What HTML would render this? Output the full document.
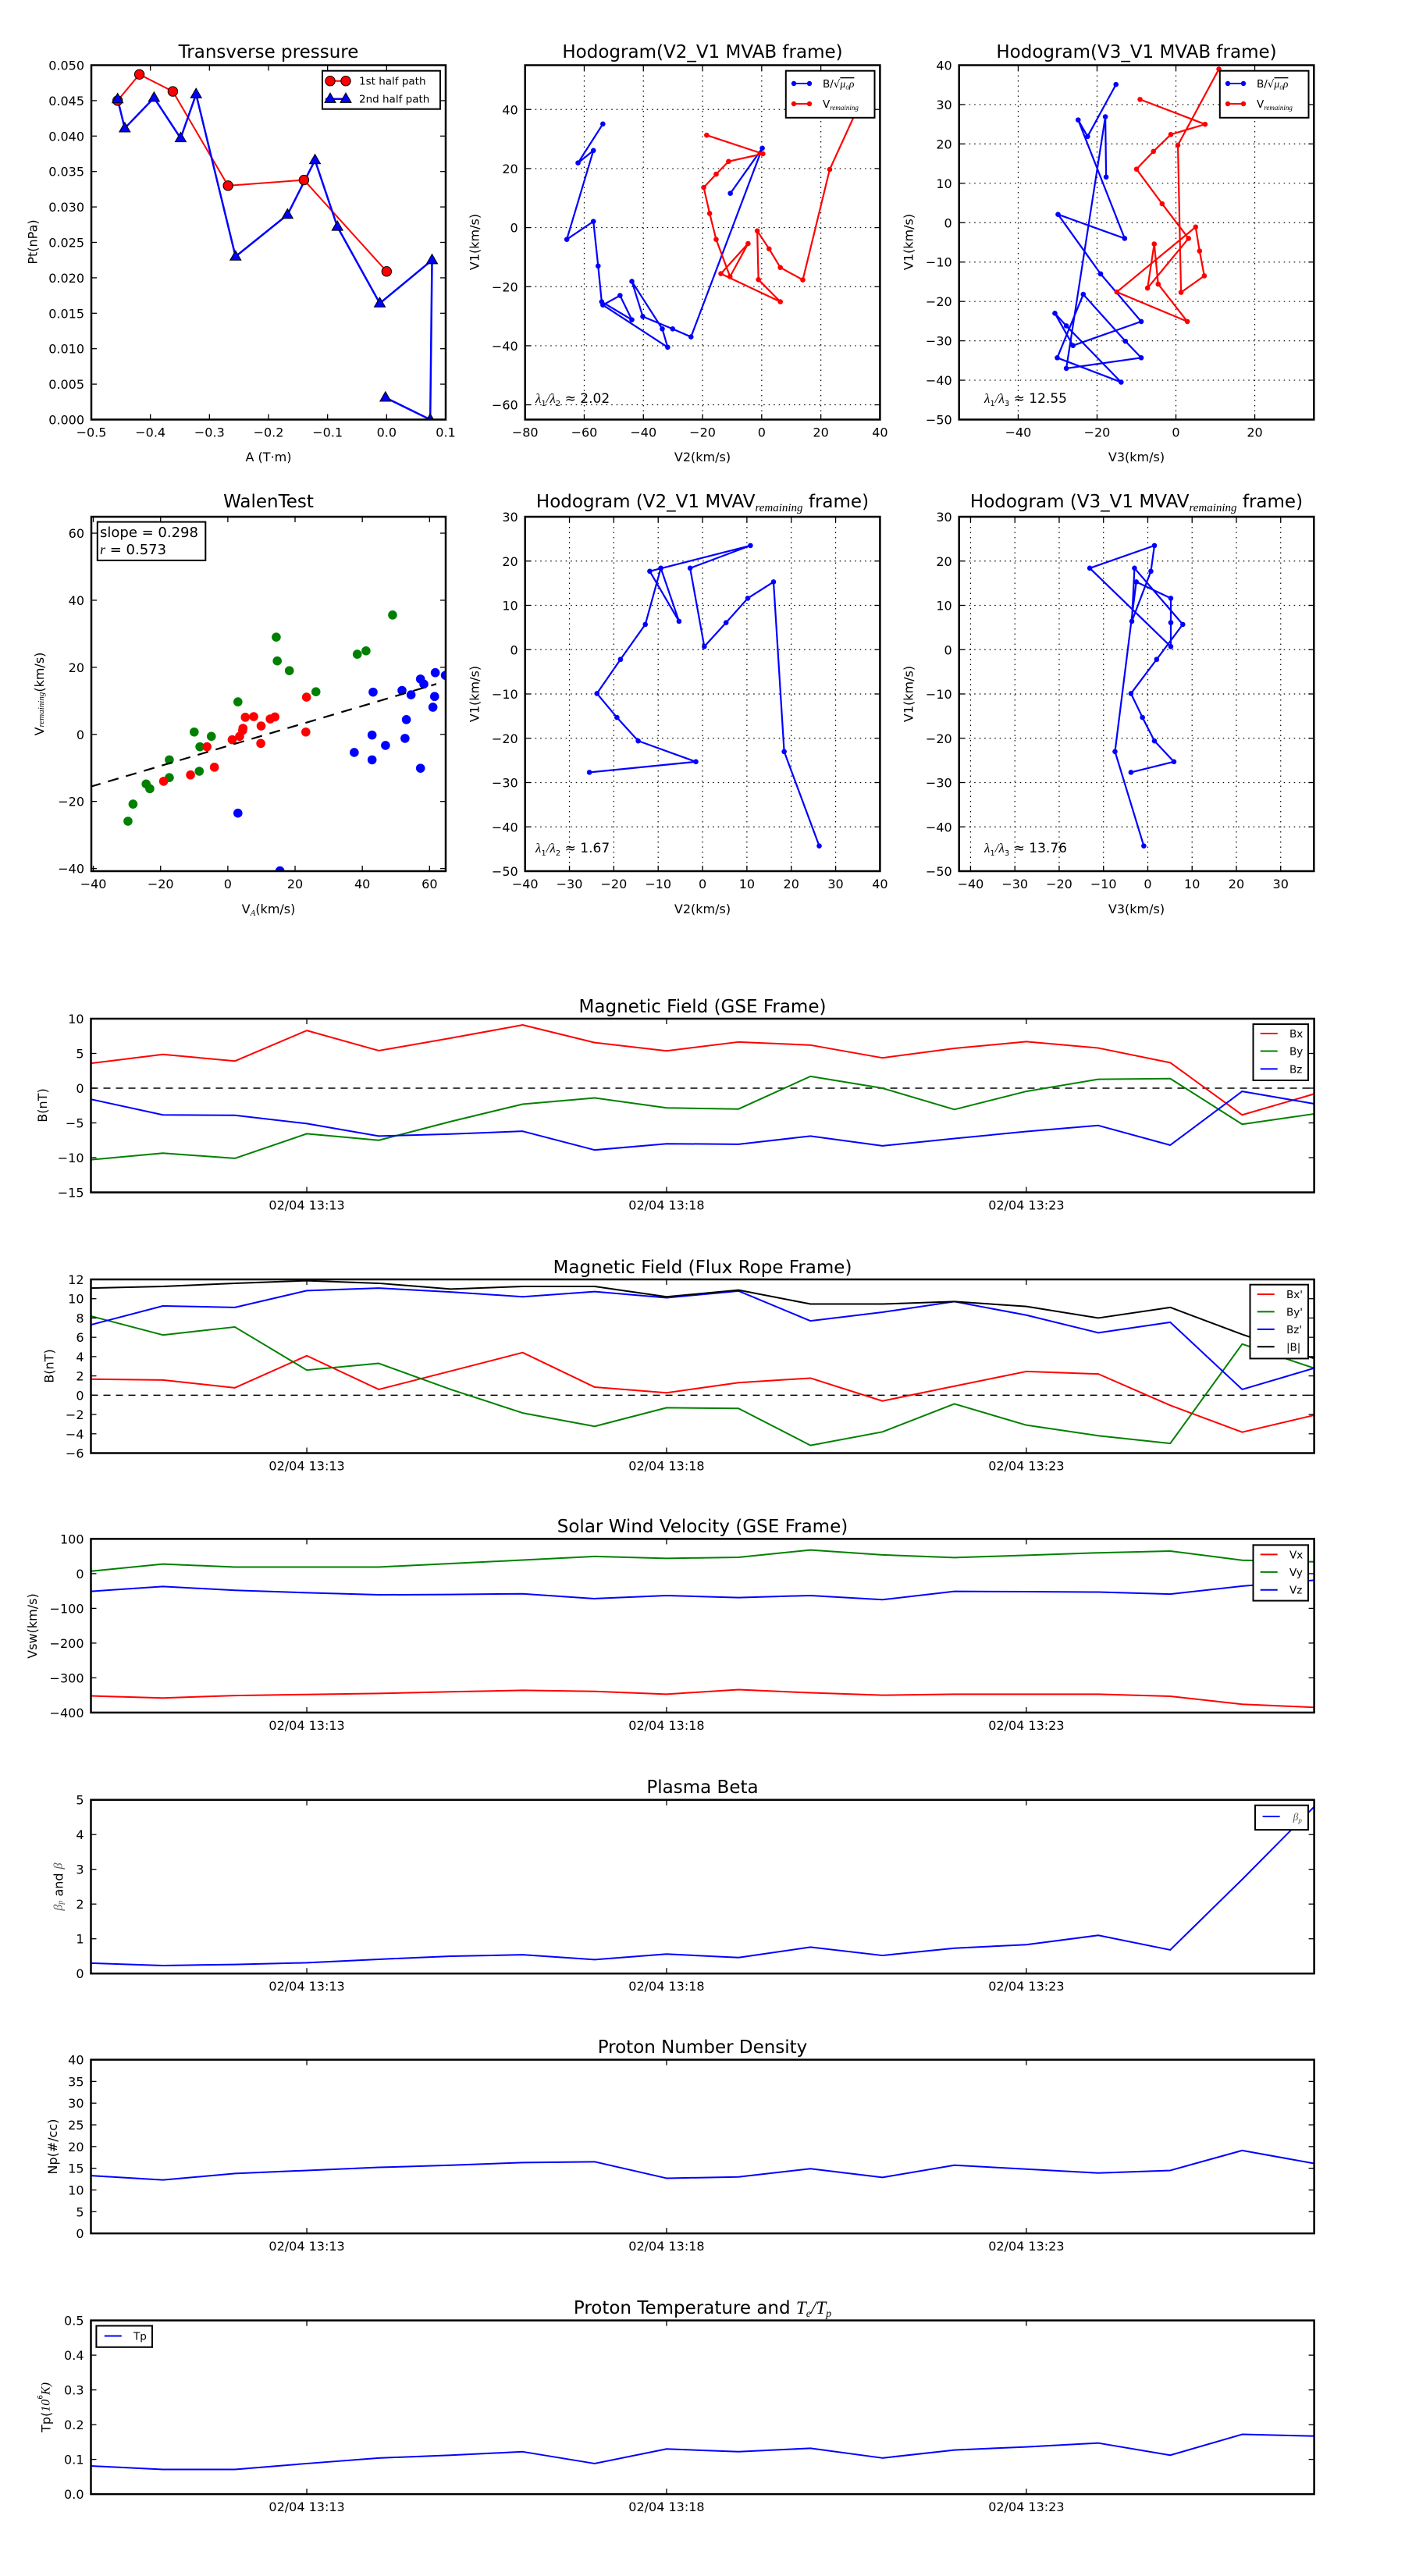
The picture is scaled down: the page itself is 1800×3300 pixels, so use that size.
<!DOCTYPE html>
<html><head><meta charset="utf-8">
<style>
body{margin:0;background:#fff}
svg{display:block}
text{font-family:"DejaVu Sans","Liberation Sans",sans-serif;fill:#000}
.m{font-family:"Liberation Serif","DejaVu Serif",serif;font-style:italic}
</style></head>
<body>
<svg id="fig" width="1800" height="3300" viewBox="0 0 1800 3300">
<rect width="1800" height="3300" fill="#fff"/>
<defs id="defs"></defs>
</svg>
<script>
// ---------- DATA ----------
// Transverse pressure
const ptRedA=[-0.4555,-0.4186,-0.362,-0.2685,-0.14,0.0];
const ptRedP=[0.0450,0.0487,0.0463,0.0330,0.0338,0.0209];
const ptBlueA=[-0.4555,-0.4434,-0.3938,-0.3488,-0.3226,-0.2558,-0.1679,-0.1213,-0.0834,-0.0116,0.0769,0.0738,-0.0020];
const ptBlueP=[0.0452,0.0411,0.0454,0.0397,0.0459,0.0230,0.0289,0.0366,0.0272,0.0164,0.0225,0.0,0.0031];
// MVAB hodograms
const hbV1=[35.1,21.9,26.1,-4.0,2.1,-13.0,-25.1,-31.2,-23.0,-26.2,-40.5,-34.3,-18.2,-30.1,-34.3,-37.0,26.9,11.6];
const hbV2=[-53.7,-62.1,-56.9,-65.9,-56.9,-55.3,-54.1,-43.9,-47.9,-53.7,-31.8,-33.6,-43.9,-40.2,-30.1,-23.9,0.2,-10.6];
const hbV3=[-15.2,-22.4,-24.8,-13.0,-29.9,-19.1,-8.8,-26.1,-30.7,-27.8,-13.9,-30.1,-23.5,-12.8,-8.8,-27.8,-17.9,-17.7];
const hrV1=[31.3,25.0,22.4,18.1,13.6,4.8,-4.0,-16.6,-5.4,-15.6,-25.1,-17.6,-1.1,-7.2,-13.5,-17.7,19.7,39.0];
const hrV2=[-18.6,0.4,-11.2,-15.4,-19.6,-17.6,-15.4,-10.7,-4.6,-13.8,6.3,-1.1,-1.5,2.5,6.3,13.9,23.0,31.8];
const hrV3=[-9.1,7.4,-1.3,-5.7,-10.0,-3.5,3.2,-7.2,-5.5,-4.5,2.9,-15.0,5.0,6.0,7.2,1.3,0.5,10.9];
// MVAV hodograms
const hvV1=[-27.7,-25.3,-20.6,-15.3,-9.9,-2.2,5.7,18.4,6.4,17.7,23.5,18.4,0.7,6.1,11.6,15.3,-23.0,-44.3];
const hvV2=[-25.5,-1.5,-14.5,-19.3,-23.8,-18.5,-12.9,-9.4,-5.3,-11.9,10.8,-2.8,0.4,5.3,10.2,16.0,18.4,26.3];
const hvV3=[-3.8,5.9,1.5,-1.2,-3.8,2.0,7.9,-3.0,-3.6,0.7,1.5,-13.1,5.2,5.2,5.2,-2.6,-7.4,-0.9];
// Walen test
const wGreenX=[-29.7,-28.2,-24.3,-23.2,-17.4,-17.4,-10.0,-8.3,-8.5,-4.9,3.0,14.4,14.7,18.3,26.2,38.5,41.1,49.0];
const wGreenY=[-25.9,-20.8,-14.8,-16.2,-7.6,-12.9,0.7,-3.7,-11.0,-0.6,9.7,29.0,21.9,19.0,12.7,23.9,24.9,35.6];
const wRedX=[-19.1,-11.1,-6.2,-4.0,1.3,3.5,4.4,4.5,5.2,7.7,9.9,9.8,12.6,14.0,23.4,23.2];
const wRedY=[-14.0,-12.1,-3.7,-9.8,-1.6,-0.6,1.2,1.8,5.1,5.3,2.5,-2.7,4.6,5.2,11.1,0.7];
const wBlueX=[3.0,15.5,37.6,42.9,42.9,43.2,46.9,51.8,52.7,53.1,54.5,57.3,58.3,57.3,61.0,61.5,61.7,64.7];
const wBlueY=[-23.5,-40.7,-5.4,-0.2,-7.6,12.6,-3.3,13.1,-1.2,4.4,11.8,16.5,15.0,-10.1,8.1,11.3,18.4,17.6];
const wSlope=0.298, wIntercept=-3.45, wFitRange=[-41,62];
// Time series (minutes after 13:00)
const tMin=[10,11,12,13,14,15,16,17,18,19,20,21,22,23,24,25,26,27];
const timeTicks=[13,18,23];
const timeTickLabels=['02/04 13:13','02/04 13:18','02/04 13:23'];
const gseBx=[3.58,4.86,3.9,8.3,5.4,7.2,9.1,6.56,5.37,6.65,6.2,4.36,5.73,6.7,5.78,3.67,-3.85,-0.83];
const gseBy=[-10.3,-9.36,-10.1,-6.56,-7.5,-4.8,-2.3,-1.4,-2.84,-3.0,1.7,0.0,-3.07,-0.46,1.28,1.38,-5.2,-3.7];
const gseBz=[-1.6,-3.85,-3.9,-5.1,-6.9,-6.6,-6.2,-8.9,-8.0,-8.07,-6.9,-8.3,-7.25,-6.24,-5.37,-8.2,-0.46,-2.25];
const frBx=[1.67,1.57,0.77,4.09,0.6,2.5,4.42,0.84,0.25,1.3,1.77,-0.6,0.94,2.46,2.2,-1.05,-3.83,-2.07];
const frBy=[8.2,6.24,7.07,2.6,3.3,0.6,-1.84,-3.23,-1.3,-1.37,-5.2,-3.8,-0.9,-3.1,-4.2,-5.0,5.3,2.8];
const frBz=[7.3,9.25,9.1,10.84,11.1,10.7,10.2,10.74,10.1,10.8,7.7,8.6,9.7,8.3,6.47,7.56,0.6,2.8];
const frBt=[11.1,11.27,11.6,11.87,11.6,11.0,11.27,11.27,10.2,10.9,9.45,9.45,9.7,9.2,8.0,9.1,6.3,3.8];
const vx=[-352,-358,-351,-348,-345,-340,-336,-339,-347,-334,-343,-350,-347,-347,-347,-353,-376,-385];
const vy=[7,27.5,19,19,19,29,39,49.5,44,47,68,54,46,53,60,65,38.5,34];
const vz=[-51,-37,-48,-55,-61,-60,-58,-72,-63,-69,-63,-75,-51,-52,-53,-59,-36,-19];
const betaP=[0.30,0.23,0.26,0.31,0.41,0.50,0.54,0.40,0.56,0.46,0.76,0.52,0.73,0.83,1.10,0.68,2.71,4.8];
const np=[13.3,12.3,13.8,14.5,15.2,15.7,16.3,16.5,12.7,13.0,14.9,12.9,15.7,14.8,13.9,14.5,19.1,16.1];
const tp=[0.081,0.071,0.071,0.088,0.104,0.112,0.122,0.088,0.130,0.122,0.132,0.104,0.127,0.136,0.147,0.112,0.172,0.167];

// ---------- HELPERS ----------
const NS='http://www.w3.org/2000/svg';
const svg=document.getElementById('fig');
const defs=document.getElementById('defs');
function mk(tag,attrs,parent){const e=document.createElementNS(NS,tag);for(const k in attrs)e.setAttribute(k,attrs[k]);(parent||svg).appendChild(e);return e;}
function txt(parent,x,y,str,size,anchor){const t=mk('text',{x:x,y:y,'font-size':size,'text-anchor':anchor||'start'},parent);t.textContent=str;return t;}
function ts(parent,str,attrs){const s=mk('tspan',attrs||{},parent);s.textContent=str;return s;}
function rng(a,b,s){const r=[];for(let v=a;v<=b+1e-9;v+=s)r.push(Math.round(v*1e6)/1e6);return r;}
function fmt(v,d){const s=Math.abs(v).toFixed(d);return (v<-1e-9?'\u2212':'')+s;}
let clipN=0;
function axes(o){
  const g=mk('g',{});
  
  
  const [x0,y0,x1,y1]=o.box;
  const sx=v=>x0+(v-o.xd[0])/(o.xd[1]-o.xd[0])*(x1-x0);
  const sy=v=>y1-(v-o.yd[0])/(o.yd[1]-o.yd[0])*(y1-y0);
  const id='clip'+(clipN++);
  const cp=mk('clipPath',{id:id},defs);
  mk('rect',{x:x0,y:y0,width:x1-x0,height:y1-y0},cp);
  if(o.grid){
    o.xt.forEach(v=>{const X=sx(v);const l=mk('line',{x1:X,y1:y0,x2:X,y2:y1,stroke:'#000','stroke-width':1.2,'stroke-dasharray':'1.5,5'},g);
      
      });
    o.yt.forEach(v=>{const Y=sy(v);const l=mk('line',{x1:x0,y1:Y,x2:x1,y2:Y,stroke:'#000','stroke-width':1.2,'stroke-dasharray':'1.5,5'},g);
      
      });
  }
  const plot=mk('g',{'clip-path':'url(#'+id+')'},g);
  
  
  return {g,plot,sx,sy,o};
}
function finish(ax){
  const o=ax.o,[x0,y0,x1,y1]=o.box,g=ax.g,tl=7;
  o.xt.forEach((v,i)=>{const X=ax.sx(v);
    mk('line',{x1:X,y1:y1,x2:X,y2:y1-tl,stroke:'#000','stroke-width':1.3},g);
    mk('line',{x1:X,y1:y0,x2:X,y2:y0+tl,stroke:'#000','stroke-width':1.3},g);
    const t=txt(g,X,y1+22,o.xl[i],16,'middle');
    
    });
  o.yt.forEach((v,i)=>{const Y=ax.sy(v);
    mk('line',{x1:x0,y1:Y,x2:x0+tl,y2:Y,stroke:'#000','stroke-width':1.3},g);
    mk('line',{x1:x1,y1:Y,x2:x1-tl,y2:Y,stroke:'#000','stroke-width':1.3},g);
    const t=txt(g,x0-9,Y+6,o.yl[i],16,'end');
    
    });
  const f=mk('rect',{x:x0,y:y0,width:x1-x0,height:y1-y0,fill:'none',stroke:'#000','stroke-width':2.5},g);
  
  
}
function line(ax,xs,ys,color,lw,dash){
  const pts=xs.map((x,i)=>ax.sx(x).toFixed(2)+','+ax.sy(ys[i]).toFixed(2)).join(' ');
  const p=mk('polyline',{points:pts,fill:'none',stroke:color,'stroke-width':lw,'stroke-linejoin':'round'},ax.plot);
  if(dash)p.setAttribute('stroke-dasharray',dash);
  return p;
}
function dots(ax,xs,ys,color,r,name){
  xs.forEach((x,i)=>{const c=mk('circle',{cx:ax.sx(x),cy:ax.sy(ys[i]),r:r,fill:color},ax.plot);
    
    });
}
function title(parent,x,y,build){const t=mk('text',{x:x,y:y,'font-size':23,'text-anchor':'middle'},parent);build(t);return t;}
function ylab(parent,cx,cy,build,name){const t=mk('text',{x:0,y:0,'font-size':16,'text-anchor':'middle','dominant-baseline':'central',transform:'translate('+cx+','+cy+') rotate(-90)'},parent);build(t);return t;}
function legendBox(parent,x0,y0,x1,y1){const r=mk('rect',{x:x0,y:y0,width:x1-x0,height:y1-y0,fill:'#fff',stroke:'#000','stroke-width':2},parent);return r;}

// ---------- ROW 1 ----------
// Transverse pressure
const a1=axes({name:'transverse-pressure-chart',box:[117,83.5,571,537.5],xd:[-0.5,0.1],yd:[0,0.05],
  xt:rng(-0.5,0.1,0.1),xl:rng(-0.5,0.1,0.1).map(v=>fmt(v,1)),yt:rng(0,0.05,0.005),yl:rng(0,0.05,0.005).map(v=>fmt(v,3))});
const pr=line(a1,ptRedA,ptRedP,'#ff0000',2);

const pb=line(a1,ptBlueA,ptBlueP,'#0000ff',2.5);

ptRedA.forEach((x,i)=>{const c=mk('circle',{cx:a1.sx(x),cy:a1.sy(ptRedP[i]),r:6.2,fill:'#ff0000',stroke:'#000','stroke-width':1},a1.plot);
  
  });
function tri(parent,cx,cy,s){const h=s*0.87;return mk('polygon',{points:`${cx},${cy-h*0.62} ${cx-s/2},${cy+h*0.38} ${cx+s/2},${cy+h*0.38}`,fill:'#0000ff',stroke:'#000','stroke-width':1},parent);}
ptBlueA.forEach((x,i)=>{const p=tri(a1.plot,a1.sx(x),a1.sy(ptBlueP[i]),14);
  
  });
finish(a1);
title(a1.g,344,74,t=>t.textContent='Transverse pressure');
{const t=txt(a1.g,344,591,'A (T\u00b7m)',16,'middle');}
ylab(a1.g,42,310,t=>t.textContent='Pt(nPa)');
{const lg=mk('g',{},a1.g);
 legendBox(lg,413,90.7,564,139.7);
 mk('line',{x1:417,y1:103.7,x2:444,y2:103.7,stroke:'#ff0000','stroke-width':2},lg);
 mk('circle',{cx:423,cy:103.7,r:6.2,fill:'#ff0000',stroke:'#000'},lg);mk('circle',{cx:443,cy:103.7,r:6.2,fill:'#ff0000',stroke:'#000'},lg);
 txt(lg,460,108.5,'1st half path',13.5);
 mk('line',{x1:417,y1:126.7,x2:444,y2:126.7,stroke:'#0000ff','stroke-width':2.5},lg);
 tri(lg,423,126.7,14);tri(lg,443,126.7,14);
 txt(lg,460,131.5,'2nd half path',13.5);}

function hodoLegend(parent,x0,lx){
  const lg=mk('g',{},parent);
  legendBox(lg,x0,90.7,x0+113.7,150.8);
  mk('line',{x1:lx,y1:107,x2:lx+24,y2:107,stroke:'#0000ff','stroke-width':2},lg);
  mk('circle',{cx:lx+2,cy:107,r:3.2,fill:'#0000ff'},lg);mk('circle',{cx:lx+22,cy:107,r:3.2,fill:'#0000ff'},lg);
  const t1=txt(lg,lx+39,112,'B/\u221a',13.5);ts(t1,'\u03bc\u2080\u03c1',{'class':'m','text-decoration':'overline'});
  mk('line',{x1:lx,y1:133,x2:lx+24,y2:133,stroke:'#ff0000','stroke-width':2},lg);
  mk('circle',{cx:lx+2,cy:133,r:3.2,fill:'#ff0000'},lg);mk('circle',{cx:lx+22,cy:133,r:3.2,fill:'#ff0000'},lg);
  const t2=txt(lg,lx+39,138,'V',13.5);ts(t2,'remaining',{'class':'m','font-size':9,dy:3});
}
function lam(parent,x,y,a,b,val){const t=mk('text',{x:x,y:y,'font-size':17},parent);
  ts(t,'\u03bb',{'class':'m'});ts(t,a,{'font-size':10,dy:4});ts(t,'/',{'class':'m',dy:-4});ts(t,'\u03bb',{'class':'m'});ts(t,b,{'font-size':10,dy:4});ts(t,' \u2248 '+val,{dy:-4});
  }

// Hodogram V2_V1 MVAB
const a2=axes({name:'hodogram-v2-v1-mvab-chart',box:[672.7,83.5,1127.4,537.5],xd:[-80,40],yd:[-65,55],grid:true,
  xt:rng(-80,40,20),xl:rng(-80,40,20).map(v=>fmt(v,0)),yt:rng(-60,40,20),yl:rng(-60,40,20).map(v=>fmt(v,0))});
line(a2,hbV2,hbV1,'#0000ff',2.2);
dots(a2,hbV2,hbV1,'#0000ff',3.3,'b-alfven-point');
line(a2,hrV2,hrV1,'#ff0000',2.2);
dots(a2,hrV2,hrV1,'#ff0000',3.3,'v-remaining-point');
finish(a2);
hodoLegend(a2.g,1006.8,1015);
title(a2.g,900,74,t=>t.textContent='Hodogram(V2_V1 MVAB frame)');
{const t=txt(a2.g,900,591,'V2(km/s)',16,'middle');}
ylab(a2.g,608,310,t=>t.textContent='V1(km/s)');
lam(a2.g,686,516,'1','2','2.02');

// Hodogram V3_V1 MVAB
const a3=axes({name:'hodogram-v3-v1-mvab-chart',box:[1228.7,83.5,1683.3,537.5],xd:[-55,35],yd:[-50,40],grid:true,
  xt:rng(-40,20,20),xl:rng(-40,20,20).map(v=>fmt(v,0)),yt:rng(-50,40,10),yl:rng(-50,40,10).map(v=>fmt(v,0))});
line(a3,hbV3,hbV1,'#0000ff',2.2);
dots(a3,hbV3,hbV1,'#0000ff',3.3,'b-alfven-point');
line(a3,hrV3,hrV1,'#ff0000',2.2);
dots(a3,hrV3,hrV1,'#ff0000',3.3,'v-remaining-point');
finish(a3);
hodoLegend(a3.g,1562.8,1571);
title(a3.g,1456,74,t=>t.textContent='Hodogram(V3_V1 MVAB frame)');
{const t=txt(a3.g,1456,591,'V3(km/s)',16,'middle');}
ylab(a3.g,1164,310,t=>t.textContent='V1(km/s)');
lam(a3.g,1261,516,'1','3','12.55');

// ---------- ROW 2 ----------
const a4=axes({name:'walen-test-chart',box:[117,662,571,1116],xd:[-40.6,64.8],yd:[-40.8,64.9],
  xt:rng(-40,60,20),xl:rng(-40,60,20).map(v=>fmt(v,0)),yt:rng(-40,60,20),yl:rng(-40,60,20).map(v=>fmt(v,0))});
dots(a4,wGreenX,wGreenY,'#008000',5.8,'walen-point-green');
dots(a4,wRedX,wRedY,'#ff0000',5.8,'walen-point-red');
dots(a4,wBlueX,wBlueY,'#0000ff',5.8,'walen-point-blue');
{const fx=wFitRange,fy=fx.map(x=>wSlope*x+wIntercept);
 const l=line(a4,fx,fy,'#000',2.2,'14,10');}
finish(a4);
{const bg=mk('g',{},a4.g);
 legendBox(bg,124.8,668.6,263.3,717.9);
 txt(bg,128,688,'slope = 0.298',18);
 const t=txt(bg,128,710,'',18);ts(t,'r',{'class':'m'});ts(t,' = 0.573');}
title(a4.g,344,650,t=>t.textContent='WalenTest');
{const t=txt(a4.g,344,1170,'V',16,'middle');ts(t,'A',{'class':'m','font-size':11,dy:3});ts(t,'(km/s)',{dy:-3});}
ylab(a4.g,50,889,t=>{ts(t,'V');ts(t,'remaining',{'class':'m','font-size':11,dy:3});ts(t,'(km/s)',{dy:-3});});

function mvavTitle(t,v){ts(t,'Hodogram ('+v+'_V1 MVAV');ts(t,'remaining',{'class':'m','font-size':15,dy:5});ts(t,' frame)',{dy:-5});}
const a5=axes({name:'hodogram-v2-v1-mvav-chart',box:[672.7,662,1127.4,1116],xd:[-40,40],yd:[-50,30],grid:true,
  xt:rng(-40,40,10),xl:rng(-40,40,10).map(v=>fmt(v,0)),yt:rng(-50,30,10),yl:rng(-50,30,10).map(v=>fmt(v,0))});
line(a5,hvV2,hvV1,'#0000ff',2.2);
dots(a5,hvV2,hvV1,'#0000ff',3.3,'hodogram-point');
finish(a5);
title(a5.g,900,650,t=>mvavTitle(t,'V2'));
{const t=txt(a5.g,900,1170,'V2(km/s)',16,'middle');}
ylab(a5.g,608,889,t=>t.textContent='V1(km/s)');
lam(a5.g,686,1092,'1','2','1.67');

const a6=axes({name:'hodogram-v3-v1-mvav-chart',box:[1228.7,662,1683.3,1116],xd:[-42.6,37.5],yd:[-50,30],grid:true,
  xt:rng(-40,30,10),xl:rng(-40,30,10).map(v=>fmt(v,0)),yt:rng(-50,30,10),yl:rng(-50,30,10).map(v=>fmt(v,0))});
line(a6,hvV3,hvV1,'#0000ff',2.2);
dots(a6,hvV3,hvV1,'#0000ff',3.3,'hodogram-point');
finish(a6);
title(a6.g,1456,650,t=>mvavTitle(t,'V3'));
{const t=txt(a6.g,1456,1170,'V3(km/s)',16,'middle');}
ylab(a6.g,1164,889,t=>t.textContent='V1(km/s)');
lam(a6.g,1261,1092,'1','3','13.76');

// ---------- TIME SERIES ----------
function tsAxes(name,top,yd,yt,yl){
  return axes({name:name,box:[116.5,top,1683.6,top+222.5],xd:[10,27],yd:yd,xt:timeTicks,xl:timeTickLabels,yt:yt,yl:yl});
}
function tsLegend(parent,x0,y0,x1,y1,lx,tx,items){
  const lg=mk('g',{},parent);
  legendBox(lg,x0,y0,x1,y1);
  items.forEach(it=>{mk('line',{x1:lx,y1:it.y,x2:lx+22,y2:it.y,stroke:it.c,'stroke-width':2},lg);
    const t=txt(lg,tx,it.y+5,'',13.5);it.b(t);});
}
// GSE magnetic field
const b1=tsAxes('magnetic-field-gse-chart',1305,[-15,10],rng(-15,10,5),rng(-15,10,5).map(v=>fmt(v,0)));
{const z=line(b1,[10,27],[0,0],'#000',1.5,'9,7');}
line(b1,tMin,gseBx,'#ff0000',2);
line(b1,tMin,gseBy,'#008000',2);
line(b1,tMin,gseBz,'#0000ff',2);
finish(b1);
tsLegend(b1.g,1605.5,1312,1676,1384,1614.7,1652,[{y:1324,c:'#ff0000',b:t=>t.textContent='Bx'},{y:1346.5,c:'#008000',b:t=>t.textContent='By'},{y:1369.4,c:'#0000ff',b:t=>t.textContent='Bz'}]);
title(b1.g,900,1297,t=>t.textContent='Magnetic Field (GSE Frame)');
ylab(b1.g,54.5,1416,t=>t.textContent='B(nT)');

// Flux rope frame
const b2=tsAxes('magnetic-field-flux-rope-chart',1639,[-6,12],rng(-6,12,2),rng(-6,12,2).map(v=>fmt(v,0)));
{const z=line(b2,[10,27],[0,0],'#000',1.5,'9,7');}
line(b2,tMin,frBx,'#ff0000',2);
line(b2,tMin,frBy,'#008000',2);
line(b2,tMin,frBz,'#0000ff',2);
line(b2,tMin,frBt,'#000',2);
finish(b2);
tsLegend(b2.g,1601.5,1645.7,1676,1740.4,1610.7,1648,[{y:1658,c:'#ff0000',b:t=>t.textContent="Bx'"},{y:1680.4,c:'#008000',b:t=>t.textContent="By'"},{y:1702.9,c:'#0000ff',b:t=>t.textContent="Bz'"},{y:1725.3,c:'#000',b:t=>t.textContent='|B|'}]);
title(b2.g,900,1631,t=>t.textContent='Magnetic Field (Flux Rope Frame)');
ylab(b2.g,63,1750,t=>t.textContent='B(nT)');

// Velocity
const b3=tsAxes('solar-wind-velocity-chart',1971.4,[-400,100],rng(-400,100,100),rng(-400,100,100).map(v=>fmt(v,0)));
line(b3,tMin,vx,'#ff0000',2);
line(b3,tMin,vy,'#008000',2);
line(b3,tMin,vz,'#0000ff',2);
finish(b3);
tsLegend(b3.g,1605.5,1979.3,1676,2050.6,1614.7,1652,[{y:1991.4,c:'#ff0000',b:t=>t.textContent='Vx'},{y:2013.9,c:'#008000',b:t=>t.textContent='Vy'},{y:2036.7,c:'#0000ff',b:t=>t.textContent='Vz'}]);
title(b3.g,900,1963,t=>t.textContent='Solar Wind Velocity (GSE Frame)');
ylab(b3.g,41.3,2083,t=>t.textContent='Vsw(km/s)');

// Plasma beta
const b4=tsAxes('plasma-beta-chart',2305.7,[0,5],rng(0,5,1),rng(0,5,1).map(v=>fmt(v,0)));
line(b4,tMin,betaP,'#0000ff',2);
finish(b4);
tsLegend(b4.g,1608,2312.7,1676,2344.1,1617.6,1656.6,[{y:2327,c:'#0000ff',b:t=>{ts(t,'\u03b2',{'class':'m',fill:'#555'});ts(t,'p',{'class':'m','font-size':9,dy:3,fill:'#555'});}}]);
title(b4.g,900,2297,t=>t.textContent='Plasma Beta');
ylab(b4.g,74.6,2417,t=>{ts(t,'\u03b2',{'class':'m',fill:'#555'});ts(t,'p',{'class':'m','font-size':10,dy:3,fill:'#555'});ts(t,' and ',{dy:-3});ts(t,'\u03b2',{'class':'m',fill:'#555'});});

// Proton density
const b5=tsAxes('proton-number-density-chart',2638.6,[0,40],rng(0,40,5),rng(0,40,5).map(v=>fmt(v,0)));
line(b5,tMin,np,'#0000ff',2);
finish(b5);
title(b5.g,900,2630,t=>t.textContent='Proton Number Density');
ylab(b5.g,67.7,2750,t=>t.textContent='Np(#/cc)');

// Proton temperature
const b6=tsAxes('proton-temperature-chart',2972.6,[0,0.5],rng(0,0.5,0.1),rng(0,0.5,0.1).map(v=>fmt(v,1)));
line(b6,tMin,tp,'#0000ff',2);
finish(b6);
tsLegend(b6.g,123.4,2979.5,195,3006.8,133.8,171,[{y:2992.5,c:'#0000ff',b:t=>t.textContent='Tp'}]);
title(b6.g,900,2964,t=>{ts(t,'Proton Temperature and ');ts(t,'T',{'class':'m'});ts(t,'e',{'class':'m','font-size':14,dy:4});ts(t,'/',{'class':'m',dy:-4});ts(t,'T',{'class':'m'});ts(t,'p',{'class':'m','font-size':14,dy:4});});
ylab(b6.g,58.5,3084,t=>{ts(t,'Tp(');ts(t,'10',{'class':'m'});ts(t,'6',{'font-size':9,dy:-6});ts(t,'K)',{'class':'m',dy:6});});
</script>
</body></html>
